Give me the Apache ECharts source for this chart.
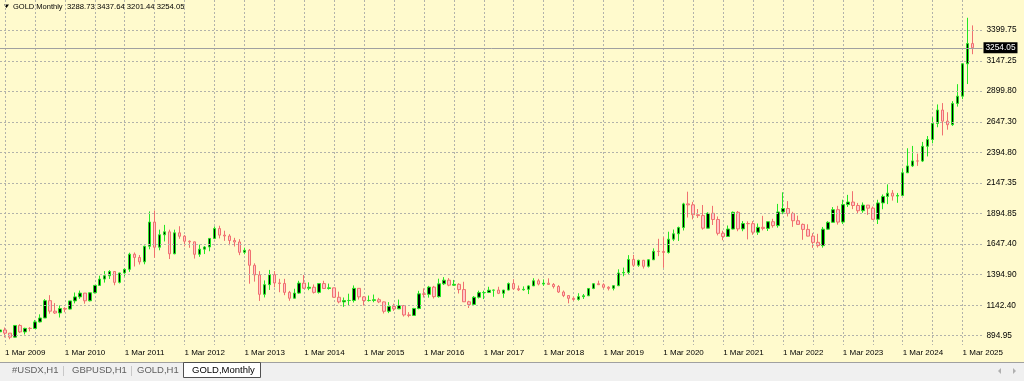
<!DOCTYPE html>
<html><head><meta charset="utf-8">
<script src="https://cdn.jsdelivr.net/npm/echarts@6/dist/echarts.min.js"></script>
<style>html,body{margin:0;padding:0;background:#fffacd;}#c{width:1024px;height:381px;}</style>
</head><body><div id="c"></div>
<script>
// ---- texts ----
const symbolName = 'GOLD,Monthly';
const lastBar = ['3288.73', '3437.64', '3201.44', '3254.05'];
const tabs = ['#USDX,H1', 'GBPUSD,H1', 'GOLD,H1', 'GOLD,Monthly'];
// ---- price scale tick labels ----
const priceTicks = [894.95, 1142.40, 1394.90, 1647.40, 1894.85, 2147.35, 2394.80, 2647.30, 2899.80, 3147.25, 3399.75];
const currentPrice = 3254.05;
// ---- monthly OHLC [open, high, low, close] ----
const y2009 = [ // Feb..Dec
  [927,1006,916,942],[942,962,881,916],[916,917,866,883],[883,982,880,979],[979,989,917,926],
  [926,960,905,955],[955,965,930,954],[954,1024,952,1008],[1008,1070,1003,1040],[1040,1195,1040,1182],[1182,1227,1075,1096]];
const y2010 = [
  [1096,1162,1073,1081],[1081,1143,1044,1118],[1118,1128,1087,1113],[1113,1180,1110,1180],[1180,1249,1160,1213],[1213,1265,1197,1244],
  [1244,1245,1157,1181],[1181,1250,1176,1247],[1247,1307,1241,1307],[1307,1387,1305,1359],[1359,1424,1330,1386],[1386,1432,1360,1421]];
const y2011 = [
  [1421,1424,1308,1332],[1332,1411,1323,1409],[1409,1448,1381,1439],[1439,1575,1418,1563],[1563,1577,1462,1536],[1536,1556,1478,1500],
  [1500,1632,1480,1628],[1628,1913,1603,1826],[1826,1921,1534,1620],[1620,1764,1595,1722],[1722,1803,1667,1746],[1746,1764,1523,1566]];
const y2012 = [
  [1566,1764,1563,1738],[1738,1792,1689,1710],[1710,1719,1627,1669],[1669,1676,1615,1664],[1664,1666,1527,1562],[1562,1641,1541,1604],
  [1604,1630,1564,1622],[1622,1693,1587,1692],[1692,1790,1686,1773],[1773,1796,1692,1719],[1719,1755,1672,1712],[1712,1727,1636,1675]];
const y2013 = [
  [1675,1697,1626,1663],[1663,1686,1555,1578],[1578,1616,1562,1595],[1595,1605,1321,1472],[1472,1488,1338,1393],[1393,1424,1180,1234],
  [1234,1348,1208,1313],[1313,1434,1270,1395],[1395,1424,1292,1327],[1327,1361,1251,1323],[1323,1361,1227,1250],[1250,1262,1181,1202]];
const y2014 = [
  [1202,1280,1202,1244],[1244,1345,1238,1326],[1326,1392,1278,1284],[1284,1332,1268,1292],[1292,1315,1240,1250],[1250,1326,1240,1322],
  [1322,1345,1281,1282],[1282,1322,1273,1287],[1287,1288,1207,1210],[1210,1256,1160,1172],[1172,1208,1131,1183],[1183,1239,1142,1184]];
const y2015 = [
  [1184,1307,1167,1283],[1283,1284,1191,1213],[1213,1219,1142,1183],[1183,1224,1175,1184],[1184,1232,1169,1190],[1190,1205,1162,1172],
  [1172,1175,1077,1095],[1095,1170,1080,1135],[1135,1157,1098,1115],[1115,1191,1113,1142],[1142,1146,1052,1065],[1065,1088,1046,1061]];
const y2016 = [
  [1061,1123,1058,1118],[1118,1263,1111,1238],[1238,1283,1208,1234],[1234,1303,1207,1293],[1293,1303,1200,1215],[1215,1362,1207,1320],
  [1320,1375,1310,1350],[1350,1367,1300,1309],[1309,1352,1303,1316],[1316,1325,1241,1273],[1273,1337,1171,1173],[1173,1181,1122,1151]];
const y2017 = [
  [1151,1220,1146,1210],[1210,1264,1200,1248],[1248,1264,1195,1249],[1249,1296,1244,1268],[1268,1273,1214,1269],[1269,1296,1236,1242],
  [1242,1270,1205,1269],[1269,1331,1267,1322],[1322,1358,1271,1280],[1280,1306,1261,1271],[1271,1299,1264,1275],[1275,1307,1236,1303]];
const y2018 = [
  [1303,1366,1302,1345],[1345,1361,1307,1318],[1318,1356,1303,1325],[1325,1365,1314,1315],[1315,1326,1282,1298],[1298,1309,1245,1253],
  [1253,1265,1211,1224],[1224,1225,1160,1201],[1201,1214,1180,1192],[1192,1243,1182,1215],[1215,1237,1196,1222],[1222,1284,1221,1282]];
const y2019 = [
  [1282,1326,1276,1321],[1321,1346,1310,1313],[1313,1324,1281,1292],[1292,1300,1266,1283],[1283,1306,1266,1305],[1305,1439,1301,1409],
  [1409,1453,1382,1413],[1413,1555,1400,1520],[1520,1557,1459,1472],[1472,1517,1459,1513],[1513,1516,1445,1464],[1464,1523,1454,1517]];
const y2020 = [
  [1517,1611,1517,1587],[1587,1689,1547,1585],[1585,1704,1451,1577],[1577,1747,1568,1686],[1686,1765,1670,1730],[1730,1789,1671,1781],
  [1781,1984,1757,1975],[1975,2075,1863,1967],[1967,1992,1848,1886],[1886,1933,1860,1879],[1879,1966,1764,1776],[1776,1906,1775,1898]];
const y2021 = [
  [1898,1959,1802,1847],[1847,1872,1717,1734],[1734,1755,1677,1708],[1708,1798,1706,1769],[1769,1913,1766,1906],[1906,1917,1751,1770],
  [1770,1834,1751,1814],[1814,1832,1684,1813],[1813,1834,1722,1743],[1743,1814,1721,1783],[1783,1877,1758,1774],[1774,1831,1753,1829]];
const y2022 = [
  [1829,1853,1780,1797],[1797,1975,1780,1909],[1909,2070,1890,1937],[1937,1998,1872,1897],[1897,1910,1787,1837],[1837,1879,1805,1807],
  [1807,1814,1681,1766],[1766,1808,1709,1711],[1711,1735,1615,1660],[1660,1730,1617,1633],[1633,1786,1616,1768],[1768,1833,1765,1824]];
const y2023 = [
  [1824,1949,1823,1928],[1928,1959,1805,1826],[1826,2009,1810,1969],[1969,2049,1950,1990],[1990,2079,1932,1962],[1962,1983,1893,1919],
  [1919,1987,1902,1965],[1965,1966,1885,1940],[1940,1953,1846,1849],[1849,2009,1810,1983],[1983,2052,1931,2036],[2036,2135,1973,2063]];
const y2024 = [
  [2063,2088,2002,2039],[2039,2065,1984,2044],[2044,2265,2039,2230],[2230,2431,2228,2286],[2286,2450,2277,2327],[2327,2387,2286,2326],
  [2326,2483,2318,2447],[2447,2531,2364,2503],[2503,2685,2471,2634],[2634,2790,2603,2744],[2744,2801,2536,2653],[2653,2726,2583,2624]];
const y2025 = [ // Jan..May
  [2624,2817,2614,2798],[2798,2956,2772,2858],[2858,3128,2833,3123],[3123,3500,2957,3288.73],[3288.73,3437.64,3201.44,3254.05]];
const emptyBars = 2; // chart shift after the last bar

const monthNames = ['Jan','Feb','Mar','Apr','May','Jun','Jul','Aug','Sep','Oct','Nov','Dec'];
const years = [y2009,y2010,y2011,y2012,y2013,y2014,y2015,y2016,y2017,y2018,y2019,y2020,y2021,y2022,y2023,y2024,y2025];
const bars = [].concat(...years);
const categories = [];
let yy = 2009, mm = 1; // Feb 2009
for (let i = 0; i < bars.length + emptyBars; i++) {
  categories.push('1 ' + monthNames[mm] + ' ' + yy);
  mm++; if (mm === 12) { mm = 0; yy++; }
}
const candleData = bars.map(b => [b[0], b[3], b[2], b[1]]);
for (let i = 0; i < emptyBars; i++) candleData.push('-');

const FONT = 'Liberation Sans';
const gridColor = '#b2b2aa';
const chart = echarts.init(document.getElementById('c'));
const tickLines = priceTicks.map(v => ({
  yAxis: v,
  lineStyle: { color: gridColor, type: [2, 2], width: 1 },
  label: { show: true, position: 'end', distance: 4, formatter: v.toFixed(2), color: '#000', fontSize: 8.3, fontFamily: FONT }
}));
tickLines.push({
  yAxis: currentPrice,
  lineStyle: { color: '#a0a0a0', type: 'solid', width: 1 },
  label: { show: true, position: 'end', distance: 1, formatter: currentPrice.toFixed(2), color: '#fff',
           backgroundColor: '#000', padding: [2, 2, 1, 2], fontSize: 8.3, fontFamily: FONT }
});

const tabX = [12, 72, 137, 192];
const graphics = [
  { type: 'polygon', shape: { points: [[4, 4.5], [9, 4.5], [6.5, 8]] }, style: { fill: '#000' } },
  { type: 'text', x: 13, y: 7, style: { text: symbolName, fill: '#000', font: '7.5px ' + FONT, verticalAlign: 'middle' } },
  { type: 'text', x: 67, y: 7, style: { text: lastBar.join(' '), fill: '#000', font: '7.7px ' + FONT, verticalAlign: 'middle' } },
  { type: 'rect', shape: { x: 0, y: 362, width: 1024, height: 19 }, style: { fill: '#f0f0f0' } },
  { type: 'line', shape: { x1: 0, y1: 362.5, x2: 1024, y2: 362.5 }, style: { stroke: '#a0a0a0', lineWidth: 1 } },
  { type: 'rect', shape: { x: 183.5, y: 362.5, width: 77, height: 15 }, style: { fill: '#fff', stroke: '#505050', lineWidth: 1 } },
  { type: 'line', shape: { x1: 63.5, y1: 366, x2: 63.5, y2: 376 }, style: { stroke: '#c8c8c8', lineWidth: 1 } },
  { type: 'line', shape: { x1: 131.5, y1: 366, x2: 131.5, y2: 376 }, style: { stroke: '#c8c8c8', lineWidth: 1 } },
  { type: 'polygon', shape: { points: [[1001, 368], [1001, 374], [998, 371]] }, style: { fill: '#b0b0b0' } },
  { type: 'polygon', shape: { points: [[1013, 368], [1013, 374], [1016, 371]] }, style: { fill: '#b0b0b0' } }
];
tabs.forEach((t, i) => {
  graphics.push({ type: 'text', x: tabX[i], y: 370.5, style: { text: t, fill: i === 3 ? '#000' : '#606060',
    font: '9.5px ' + FONT, verticalAlign: 'middle' } });
});

chart.setOption({
  backgroundColor: '#fffacd',
  animation: false,
  grid: { left: -2.5, top: 0, width: (categories.length - 1) * 5, height: 345 },
  xAxis: {
    type: 'category', data: categories, boundaryGap: false,
    axisLine: { show: false }, axisTick: { show: false },
    axisLabel: { interval: (i, v) => v.indexOf(' Mar ') >= 0, align: 'left', margin: 4,
                 fontSize: 8, color: '#000', fontFamily: FONT },
    splitLine: { show: true, interval: (i, v) => /( Mar | Sep )/.test(v),
                 lineStyle: { color: gridColor, type: [2, 2], width: 1 } }
  },
  yAxis: { type: 'value', min: 818.75, max: 3645.7, show: false, splitLine: { show: false } },
  series: [
    { type: 'line', data: [], z: 1, silent: true,
      markLine: { symbol: ['none', 'none'], silent: true, animation: false, data: tickLines } },
    { type: 'candlestick', z: 3, data: candleData, barWidth: 3,
      itemStyle: { color: '#000000', color0: '#ffc8c8', borderColor: '#22e622', borderColor0: '#f07070', borderWidth: 1 } }
  ],
  graphic: graphics
});
</script></body></html>
